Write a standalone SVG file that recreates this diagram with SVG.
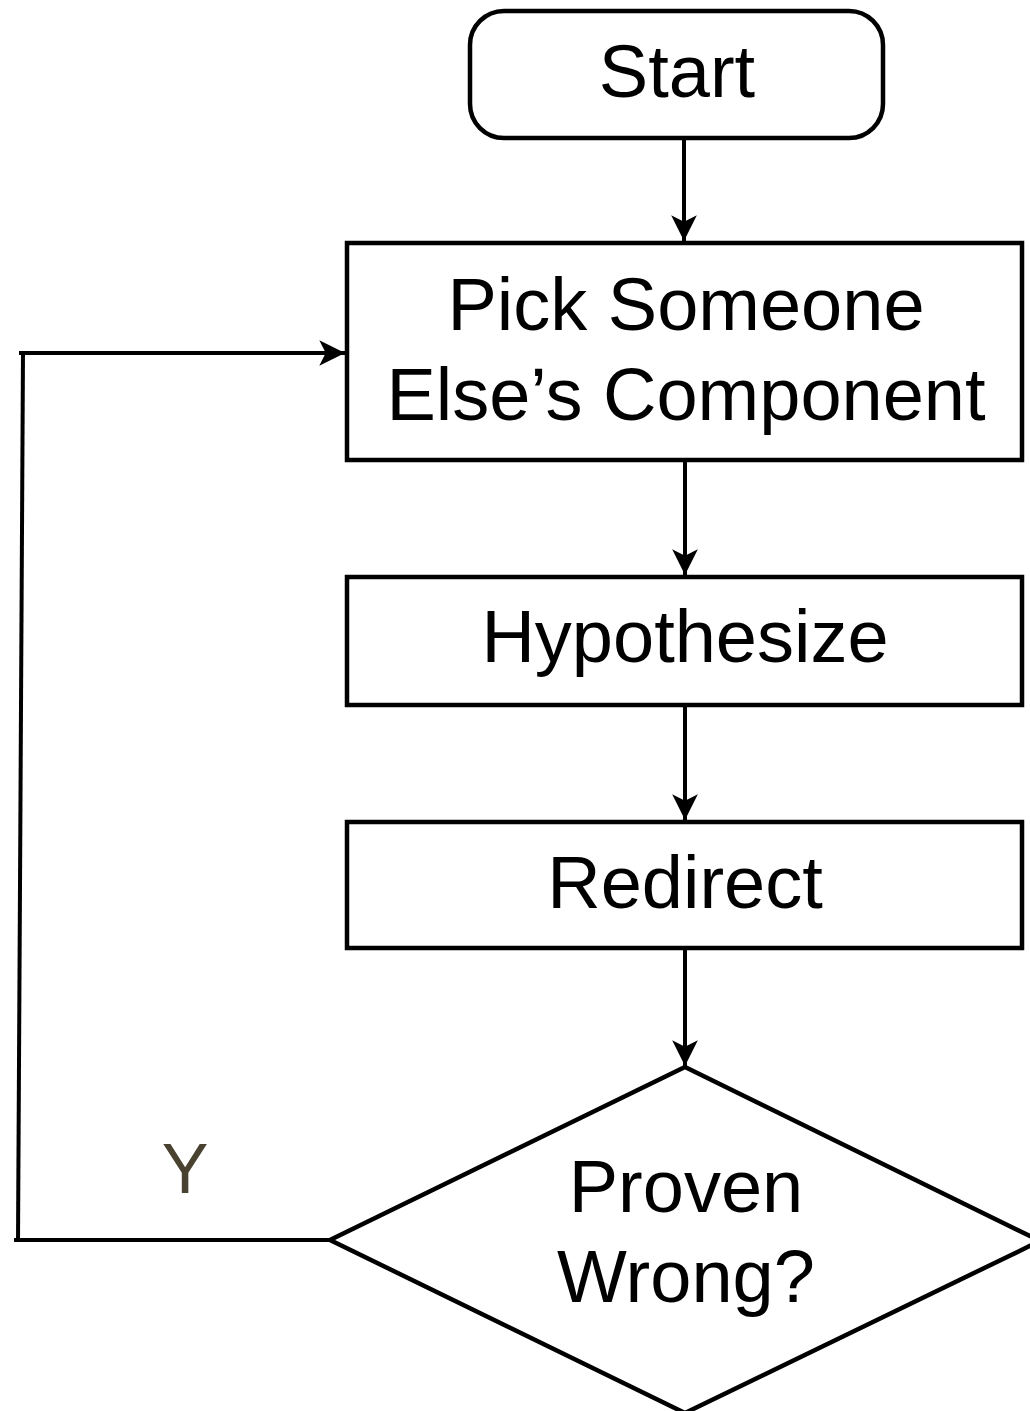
<svg xmlns="http://www.w3.org/2000/svg" width="1030" height="1411" viewBox="0 0 1030 1411">
  <style>
    .shape { fill: #ffffff; stroke: #000000; stroke-width: 4.5; }
    .label { font-family: "Liberation Sans", Arial, Helvetica, sans-serif; font-size: 74px; fill: #000000; text-anchor: middle; }
    .edge { fill: none; stroke: #000000; stroke-width: 4; }
    .tag { font-family: "Liberation Sans", Arial, Helvetica, sans-serif; font-size: 70px; fill: #4a4230; text-anchor: middle; }
  </style>
  <defs>
    <marker id="arrow" markerUnits="userSpaceOnUse" markerWidth="30" markerHeight="30" viewBox="-26 -13 28 26" refX="0" refY="0" orient="auto">
      <path d="M0,0 L-24,-12 L-18,0 L-24,12 Z" fill="#000000"/>
    </marker>
  </defs>

  <rect width="1030" height="1411" fill="#ffffff"/>

  <g id="connectors">
    <line class="edge" x1="684" y1="138" x2="684" y2="241" marker-end="url(#arrow)"/>
    <line class="edge" x1="685" y1="460" x2="685" y2="575" marker-end="url(#arrow)"/>
    <line class="edge" x1="685" y1="705" x2="685" y2="820" marker-end="url(#arrow)"/>
    <line class="edge" x1="685" y1="948" x2="685" y2="1066" marker-end="url(#arrow)"/>
    <!-- loop back from the decision to the first step -->
    <line class="edge" x1="332" y1="1240" x2="14" y2="1240"/>
    <line class="edge" x1="18" y1="1241" x2="23" y2="352"/>
    <line class="edge" x1="19" y1="353" x2="345" y2="353" marker-end="url(#arrow)"/>
    <text class="tag" x="185" y="1193">Y</text>
  </g>

  <g id="start">
    <rect class="shape" x="470" y="11" width="413" height="127" rx="34" ry="34"/>
    <text class="label" x="677" y="97">Start</text>
  </g>

  <g id="pick">
    <rect class="shape" x="347" y="243" width="675" height="217"/>
    <text class="label" x="686" y="330">Pick Someone</text>
    <text class="label" x="686" y="420">Else’s Component</text>
  </g>

  <g id="hypothesize">
    <rect class="shape" x="347" y="577" width="675" height="128"/>
    <text class="label" x="685" y="662">Hypothesize</text>
  </g>

  <g id="redirect">
    <rect class="shape" x="347" y="822" width="675" height="126"/>
    <text class="label" x="685" y="908">Redirect</text>
  </g>

  <g id="decision">
    <polygon class="shape" points="685,1067 1040,1241 685,1413 330,1240"/>
    <text class="label" x="686" y="1212">Proven</text>
    <text class="label" x="686" y="1302">Wrong?</text>
  </g>
</svg>
